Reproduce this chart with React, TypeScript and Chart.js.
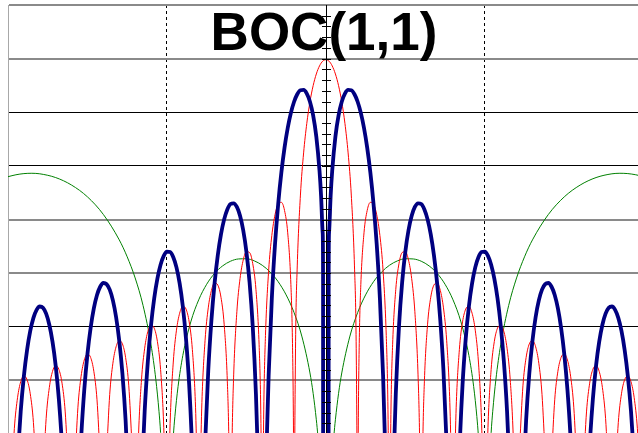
import { useEffect, useRef } from 'react';
import { Chart, registerables } from 'chart.js';

Chart.register(...registerables);

const TITLE = 'BOC(1,1)';

// Frequency offset in units of 1.023 MHz, PSD in dB
const X_MIN = -10;
const X_MAX = 9.82;
const Y_MIN = -95;
const Y_MAX = -55;
const Y_STEP = 5;
const X_STEP = 5;
const X_DASHED = [-5, 5];
const Y_DARK = [-65, -70, -85];
const AXIS_MINOR_TICKS = [
  -56, -57, -58, -59, -60, -61, -62, -63, -64, -65, -66, -67, -68, -69, -70, -71, -72, -73, -74,
  -75, -76, -77, -78, -79, -80, -81, -82, -83, -84, -85, -86, -87, -88, -89, -90, -91, -92, -93, -94,
];

// BOC(1,1) spectrum (thick navy)
const BOC11: [number, number | null][] = [
  [-9.7, -97.48], [-9.6, -92.9], [-9.5, -89.59], [-9.4, -87.16], [-9.3, -85.39], [-9.2, -84.17], [-9.1, -83.42], [-9.0, -83.11], [-8.9, -83.23], [-8.8, -83.78], [-8.7, -84.81], [-8.6, -86.39], [-8.5, -88.63], [-8.4, -91.74], [-8.3, -96.12], [-8.2, -102.7], [-8, null],
  [-7.8, -102.26], [-7.7, -95.47], [-7.6, -90.87], [-7.5, -87.54], [-7.4, -85.09], [-7.3, -83.29], [-7.2, -82.04], [-7.1, -81.27], [-7.0, -80.92], [-6.9, -81.02], [-6.8, -81.54], [-6.7, -82.54], [-6.6, -84.09], [-6.5, -86.3], [-6.4, -89.37], [-6.3, -93.73], [-6.2, -100.27], [-6, null],
  [-5.8, -99.69], [-5.7, -92.86], [-5.6, -88.21], [-5.5, -84.85], [-5.4, -82.35], [-5.3, -80.51], [-5.2, -79.21], [-5.1, -78.39], [-5.0, -78.0], [-4.9, -78.04], [-4.8, -78.52], [-4.7, -79.46], [-4.6, -80.96], [-4.5, -83.1], [-4.4, -86.12], [-4.3, -90.41], [-4.2, -96.89], [-4.15, -101.66], [-4, null],
  [-3.85, -101.01], [-3.8, -96.02], [-3.7, -89.1], [-3.6, -84.38], [-3.5, -80.92], [-3.4, -78.33], [-3.3, -76.39], [-3.2, -74.99], [-3.1, -74.07], [-3.0, -73.56], [-2.9, -73.49], [-2.8, -73.83], [-2.7, -74.65], [-2.6, -76.0], [-2.5, -78.0], [-2.4, -80.85], [-2.3, -84.98], [-2.2, -91.27], [-2.15, -95.95], [-2.1, -102.69], [-2, null],
  [-1.9, -101.8], [-1.85, -94.64], [-1.8, -89.53], [-1.7, -82.35], [-1.6, -77.33], [-1.5, -73.56], [-1.4, -70.62], [-1.3, -68.3], [-1.2, -66.47], [-1.1, -65.06], [-1.0, -64.02], [-0.9, -63.32], [-0.8, -62.95], [-0.7, -62.92], [-0.6, -63.26], [-0.5, -64.02], [-0.4, -65.29], [-0.3, -67.28], [-0.2, -70.44], [-0.15, -72.82], [-0.1, -76.25], [-0.088, -80.0], [-0.085, -110.0], [0, null],
  [0.085, -110.0], [0.088, -80.0], [0.1, -76.25], [0.15, -72.82], [0.2, -70.44], [0.3, -67.28], [0.4, -65.29], [0.5, -64.02], [0.6, -63.26], [0.7, -62.92], [0.8, -62.95], [0.9, -63.32], [1.0, -64.02], [1.1, -65.06], [1.2, -66.47], [1.3, -68.3], [1.4, -70.62], [1.5, -73.56], [1.6, -77.33], [1.7, -82.35], [1.8, -89.53], [1.85, -94.64], [1.9, -101.8], [2, null],
  [2.1, -102.69], [2.15, -95.95], [2.2, -91.27], [2.3, -84.98], [2.4, -80.85], [2.5, -78.0], [2.6, -76.0], [2.7, -74.65], [2.8, -73.83], [2.9, -73.49], [3.0, -73.56], [3.1, -74.07], [3.2, -74.99], [3.3, -76.39], [3.4, -78.33], [3.5, -80.92], [3.6, -84.38], [3.7, -89.1], [3.8, -96.02], [3.85, -101.01], [4, null],
  [4.15, -101.66], [4.2, -96.89], [4.3, -90.41], [4.4, -86.12], [4.5, -83.1], [4.6, -80.96], [4.7, -79.46], [4.8, -78.52], [4.9, -78.04], [5.0, -78.0], [5.1, -78.39], [5.2, -79.21], [5.3, -80.51], [5.4, -82.35], [5.5, -84.85], [5.6, -88.21], [5.7, -92.86], [5.8, -99.69], [6, null],
  [6.2, -100.27], [6.3, -93.73], [6.4, -89.37], [6.5, -86.3], [6.6, -84.09], [6.7, -82.54], [6.8, -81.54], [6.9, -81.02], [7.0, -80.92], [7.1, -81.27], [7.2, -82.04], [7.3, -83.29], [7.4, -85.09], [7.5, -87.54], [7.6, -90.87], [7.7, -95.47], [7.8, -102.26], [8, null],
  [8.2, -102.7], [8.3, -96.12], [8.4, -91.74], [8.5, -88.63], [8.6, -86.39], [8.7, -84.81], [8.8, -83.78], [8.9, -83.23], [9.0, -83.11], [9.1, -83.42], [9.2, -84.17], [9.3, -85.39], [9.4, -87.16], [9.5, -89.59], [9.6, -92.9], [9.7, -97.48],
];

// BPSK(1) spectrum (thin red)
const BPSK1: [number, number | null][] = [
  [-9.9, -100.15], [-9.8, -94.48], [-9.7, -91.62], [-9.6, -90.13], [-9.5, -89.59], [-9.4, -89.94], [-9.3, -91.25], [-9.2, -93.94], [-9.1, -99.42], [-9, null],
  [-8.9, -99.23], [-8.8, -93.55], [-8.7, -90.67], [-8.6, -89.17], [-8.5, -88.63], [-8.4, -88.97], [-8.3, -90.26], [-8.2, -92.94], [-8.1, -98.41], [-8, null],
  [-7.9, -98.19], [-7.8, -92.5], [-7.7, -89.61], [-7.6, -88.1], [-7.5, -87.54], [-7.4, -87.87], [-7.3, -89.15], [-7.2, -91.81], [-7.1, -97.27], [-7, null],
  [-6.9, -97.02], [-6.8, -91.31], [-6.7, -88.4], [-6.6, -86.87], [-6.5, -86.3], [-6.4, -86.6], [-6.3, -87.87], [-6.2, -90.51], [-6.1, -95.95], [-6, null],
  [-5.95, -101.64], [-5.9, -95.66], [-5.8, -89.93], [-5.7, -87.0], [-5.6, -85.44], [-5.5, -84.85], [-5.4, -85.13], [-5.3, -86.37], [-5.2, -88.98], [-5.1, -94.39], [-5.05, -100.22], [-5, null],
  [-4.95, -100.04], [-4.9, -94.04], [-4.8, -88.29], [-4.7, -85.32], [-4.6, -83.74], [-4.5, -83.1], [-4.4, -83.35], [-4.3, -84.55], [-4.2, -87.13], [-4.1, -92.5], [-4.05, -98.3], [-4, null],
  [-3.95, -98.08], [-3.9, -92.06], [-3.8, -86.26], [-3.7, -83.24], [-3.6, -81.61], [-3.5, -80.92], [-3.4, -81.11], [-3.3, -82.25], [-3.2, -84.76], [-3.1, -90.07], [-3.05, -95.84], [-3.02, -103.68], [-3, null],
  [-2.98, -103.56], [-2.95, -95.55], [-2.9, -89.49], [-2.8, -83.6], [-2.7, -80.51], [-2.6, -78.78], [-2.5, -78.0], [-2.4, -78.08], [-2.3, -79.12], [-2.2, -81.51], [-2.1, -86.68], [-2.05, -92.39], [-2.02, -100.19], [-2, null],
  [-1.98, -100.01], [-1.95, -91.95], [-1.9, -85.82], [-1.8, -79.77], [-1.7, -76.49], [-1.6, -74.56], [-1.5, -73.56], [-1.4, -73.4], [-1.3, -74.16], [-1.2, -76.24], [-1.1, -81.07], [-1.05, -86.57], [-1.02, -94.25], [-1.01, -100.2], [-1, null],
  [-0.99, -100.0], [-0.95, -85.71], [-0.9, -79.33], [-0.8, -72.72], [-0.7, -68.79], [-0.6, -66.04], [-0.5, -64.02], [-0.4, -62.52], [-0.3, -61.43], [-0.2, -60.68], [-0.1, -60.24], [0, -60.1],
  [0.1, -60.24], [0.2, -60.68], [0.3, -61.43], [0.4, -62.52], [0.5, -64.02], [0.6, -66.04], [0.7, -68.79], [0.8, -72.72], [0.9, -79.33], [0.95, -85.71], [0.99, -100.0], [1, null],
  [1.01, -100.2], [1.02, -94.25], [1.05, -86.57], [1.1, -81.07], [1.2, -76.24], [1.3, -74.16], [1.4, -73.4], [1.5, -73.56], [1.6, -74.56], [1.7, -76.49], [1.8, -79.77], [1.9, -85.82], [1.95, -91.95], [1.98, -100.01], [2, null],
  [2.02, -100.19], [2.05, -92.39], [2.1, -86.68], [2.2, -81.51], [2.3, -79.12], [2.4, -78.08], [2.5, -78.0], [2.6, -78.78], [2.7, -80.51], [2.8, -83.6], [2.9, -89.49], [2.95, -95.55], [2.98, -103.56], [3, null],
  [3.02, -103.68], [3.05, -95.84], [3.1, -90.07], [3.2, -84.76], [3.3, -82.25], [3.4, -81.11], [3.5, -80.92], [3.6, -81.61], [3.7, -83.24], [3.8, -86.26], [3.9, -92.06], [3.95, -98.08], [4, null],
  [4.05, -98.3], [4.1, -92.5], [4.2, -87.13], [4.3, -84.55], [4.4, -83.35], [4.5, -83.1], [4.6, -83.74], [4.7, -85.32], [4.8, -88.29], [4.9, -94.04], [4.95, -100.04], [5, null],
  [5.05, -100.22], [5.1, -94.39], [5.2, -88.98], [5.3, -86.37], [5.4, -85.13], [5.5, -84.85], [5.6, -85.44], [5.7, -87.0], [5.8, -89.93], [5.9, -95.66], [5.95, -101.64], [6, null],
  [6.1, -95.95], [6.2, -90.51], [6.3, -87.87], [6.4, -86.6], [6.5, -86.3], [6.6, -86.87], [6.7, -88.4], [6.8, -91.31], [6.9, -97.02], [7, null],
  [7.1, -97.27], [7.2, -91.81], [7.3, -89.15], [7.4, -87.87], [7.5, -87.54], [7.6, -88.1], [7.7, -89.61], [7.8, -92.5], [7.9, -98.19], [8, null],
  [8.1, -98.41], [8.2, -92.94], [8.3, -90.26], [8.4, -88.97], [8.5, -88.63], [8.6, -89.17], [8.7, -90.67], [8.8, -93.55], [8.9, -99.23], [9, null],
  [9.1, -99.42], [9.2, -93.94], [9.3, -91.25], [9.4, -89.94], [9.5, -89.59], [9.6, -90.13], [9.7, -91.62], [9.8, -94.48], [9.9, -100.15],
];

// BOC(10,5) spectrum (thin green)
const BOC105: [number, number | null][] = [
  [-10.05, -71.05], [-10, -71.01], [-9.75, -70.83], [-9.5, -70.72], [-9.25, -70.69], [-9, -70.74], [-8.5, -71.09], [-8, -71.79], [-7.5, -72.89], [-7, -74.53], [-6.5, -76.9], [-6.25, -78.48], [-6, -80.45], [-5.75, -83.03], [-5.5, -86.69], [-5.35, -89.9], [-5.25, -92.88], [-5.2, -94.86], [-5.1, -100.97], [-5, null],
  [-4.9, -101.16], [-4.8, -95.27], [-4.75, -93.38], [-4.65, -90.58], [-4.5, -87.68], [-4.25, -84.55], [-4, -82.49], [-3.75, -81.04], [-3.5, -80.02], [-3.25, -79.33], [-3, -78.89], [-2.75, -78.68], [-2.5, -78.66], [-2.25, -78.86], [-2, -79.27], [-1.75, -79.91], [-1.5, -80.8], [-1.25, -82.03], [-1, -83.68], [-0.75, -85.95], [-0.5, -89.31], [-0.4, -91.21], [-0.3, -93.67], [-0.25, -95.23], [-0.2, -97.16], [-0.1, -103.17], [0, null],
  [0.1, -103.17], [0.2, -97.16], [0.25, -95.23], [0.3, -93.67], [0.4, -91.21], [0.5, -89.31], [0.75, -85.95], [1, -83.68], [1.25, -82.03], [1.5, -80.8], [1.75, -79.91], [2, -79.27], [2.25, -78.86], [2.5, -78.66], [2.75, -78.68], [3, -78.89], [3.25, -79.33], [3.5, -80.02], [3.75, -81.04], [4, -82.49], [4.25, -84.55], [4.5, -87.68], [4.65, -90.58], [4.75, -93.38], [4.8, -95.27], [4.9, -101.16], [5, null],
  [5.1, -100.97], [5.2, -94.86], [5.25, -92.88], [5.35, -89.9], [5.5, -86.69], [5.75, -83.03], [6, -80.45], [6.25, -78.48], [6.5, -76.9], [7, -74.53], [7.5, -72.89], [8, -71.79], [8.5, -71.09], [9, -70.74], [9.25, -70.69], [9.5, -70.72], [9.75, -70.83], [10, -71.01],
];

const toPoints = (arr: [number, number | null][]) => arr.map(([x, y]) => ({ x, y }));

const centerAxisPlugin = {
  id: 'centerAxis',
  afterDatasetsDraw(chart: any) {
    const { ctx, chartArea, scales } = chart;
    const xs = scales.x;
    const ys = scales.y;
    const px = Math.round(xs.getPixelForValue(0)) + 0.5;
    ctx.save();
    ctx.strokeStyle = '#000';
    ctx.lineWidth = 1;
    ctx.beginPath();
    ctx.moveTo(px, chartArea.top);
    ctx.lineTo(px, chartArea.bottom);
    for (const v of AXIS_MINOR_TICKS) {
      const py = Math.round(ys.getPixelForValue(v)) + 0.5;
      ctx.moveTo(px - 4.5, py);
      ctx.lineTo(px + 4.5, py);
    }
    ctx.stroke();
    ctx.restore();
  },
};

const titlePlugin = {
  id: 'overlayTitle',
  afterDraw(chart: any) {
    const { ctx, chartArea } = chart;
    ctx.save();
    ctx.font = 'bold 53px "Liberation Sans", Arial, Helvetica, sans-serif';
    ctx.fillStyle = '#000';
    ctx.textAlign = 'center';
    ctx.textBaseline = 'alphabetic';
    ctx.fillText(TITLE, (chartArea.left + chartArea.right) / 2 + 1, chartArea.top + 44.5);
    ctx.restore();
  },
};

export default function App() {
  const ref = useRef<HTMLCanvasElement>(null);

  useEffect(() => {
    document.body.style.margin = '0';
    const canvas = ref.current;
    if (!canvas) return;
    const chart = new Chart(canvas, {
      type: 'line',
      data: {
        datasets: [
          {
            label: 'BOC(1,1)',
            data: toPoints(BOC11) as any,
            borderColor: '#000080',
            borderWidth: 3.8,
            pointRadius: 0,
            cubicInterpolationMode: 'monotone',
            spanGaps: false,
            fill: false,
          },
          {
            label: 'BPSK(1)',
            data: toPoints(BPSK1) as any,
            borderColor: '#ff0000',
            borderWidth: 1,
            pointRadius: 0,
            cubicInterpolationMode: 'monotone',
            spanGaps: false,
            fill: false,
          },
          {
            label: 'BOC(10,5)',
            data: toPoints(BOC105) as any,
            borderColor: '#008000',
            borderWidth: 1,
            pointRadius: 0,
            cubicInterpolationMode: 'monotone',
            spanGaps: false,
            fill: false,
          },
        ],
      },
      options: {
        responsive: false,
        animation: false,
        devicePixelRatio: 1,
        layout: { padding: { left: 8, top: 5, right: 0, bottom: 0 } },
        plugins: {
          legend: { display: false },
          tooltip: { enabled: false },
          title: { display: false },
        },
        scales: {
          x: {
            type: 'linear',
            min: X_MIN,
            max: X_MAX,
            ticks: { display: false, stepSize: X_STEP },
            grid: {
              drawTicks: false,
              color: (c: any) => (c.tick && X_DASHED.includes(c.tick.value) ? '#000' : 'rgba(0,0,0,0)'),
              lineWidth: 1,
            },
            border: { display: false, dash: [3, 3] },
          },
          y: {
            type: 'linear',
            min: Y_MIN,
            max: Y_MAX,
            ticks: { display: false, stepSize: Y_STEP },
            grid: {
              drawTicks: false,
              color: (c: any) => (c.tick && Y_DARK.includes(c.tick.value) ? '#000' : '#8a8a8a'),
              lineWidth: (c: any) => (c.tick && Y_DARK.includes(c.tick.value) ? 1 : 2),
            },
            border: { display: true, color: '#a8a8a8', width: 1 },
          },
        },
      },
      plugins: [centerAxisPlugin, titlePlugin],
    });
    return () => chart.destroy();
  }, []);

  return (
    <div style={{ position: 'fixed', left: 0, top: 0, width: 638, height: 434, background: '#fff' }}>
      <canvas ref={ref} width={638} height={434} style={{ display: 'block' }} />
    </div>
  );
}
